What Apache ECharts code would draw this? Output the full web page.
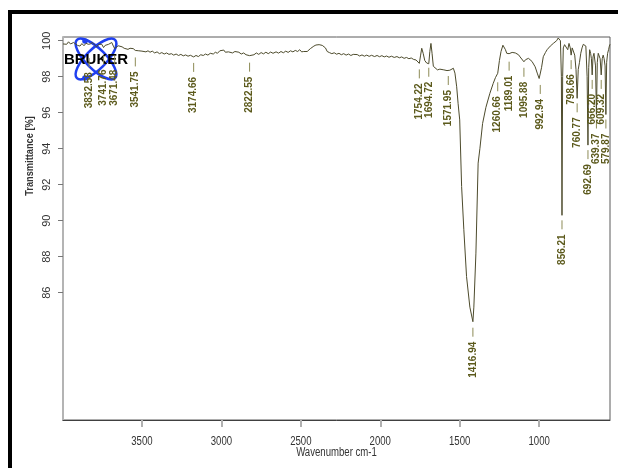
<!DOCTYPE html>
<html>
<head>
<meta charset="utf-8">
<title>FTIR spectrum</title>
<script src="https://cdn.jsdelivr.net/npm/echarts@6/dist/echarts.min.js"></script>
<style>
  html, body { margin: 0; padding: 0; background: #ffffff; }
  #chart { width: 618px; height: 468px; }
</style>
</head>
<body>
<div id="chart"></div>
<script>
// Spectrum trace: wavenumber (cm-1) and transmittance (%)
var wavenumber = [
  3997, 3985, 3974, 3962, 3950, 3942, 3930, 3918, 3905, 3890, 3878, 3865, 3852, 3838, 3832.58, 3825, 3812, 3800,
  3785, 3772, 3760, 3753, 3741.76, 3732, 3722, 3710, 3700, 3690, 3680, 3671.48, 3660, 3650, 3638, 3625, 3612, 3600,
  3588, 3575, 3565, 3555, 3541.75, 3530, 3520, 3512, 3500, 3488, 3475, 3462, 3449, 3435, 3420, 3405, 3390, 3375,
  3360, 3345, 3330, 3315, 3300, 3285, 3270, 3255, 3240, 3225, 3210, 3195, 3174.66, 3160, 3145, 3130, 3114, 3100,
  3085, 3070, 3051, 3038, 3025, 3010, 2998, 2985, 2975, 2967, 2955, 2946, 2930, 2915, 2904, 2890, 2875, 2860,
  2845, 2835, 2822.55, 2810, 2795, 2780, 2765, 2750, 2735, 2720, 2705, 2690, 2675, 2656, 2640, 2625, 2610, 2595,
  2580, 2565, 2550, 2535, 2520, 2507, 2495, 2482, 2470, 2460, 2450, 2440, 2430, 2418, 2405, 2396, 2385, 2375,
  2365, 2354, 2345, 2334, 2320, 2305, 2290, 2275, 2260, 2245, 2230, 2215, 2200, 2185, 2170, 2160, 2145, 2130,
  2115, 2100, 2085, 2070, 2055, 2036, 2020, 2005, 1990, 1975, 1960, 1945, 1930, 1912, 1895, 1880, 1865, 1850,
  1835, 1820, 1805, 1790, 1775, 1765, 1754.22, 1746, 1739, 1730, 1720, 1708, 1700, 1694.72, 1688, 1681, 1674, 1666,
  1655, 1640, 1625, 1613, 1600, 1590, 1580, 1571.95, 1562, 1550, 1540, 1530, 1519, 1510, 1500, 1488, 1474, 1457,
  1436, 1416.94, 1411, 1398, 1384, 1373, 1356, 1335, 1310, 1289, 1275, 1260.66, 1250, 1240, 1228, 1221, 1212, 1204,
  1195, 1189.01, 1184, 1170, 1160, 1150, 1141, 1130, 1120, 1108, 1095.88, 1085, 1075, 1067, 1055, 1045, 1037, 1025,
  1012, 1000, 992.94, 985, 974, 960, 950, 942, 930, 920, 911, 900, 890, 880, 873, 866, 860, 856.21, 852, 848,
  840, 830, 820, 812, 804, 798.66, 792, 785, 776, 768, 760.77, 754, 746, 738, 730, 722, 714, 706, 698, 692.69,
  688, 682, 676, 671, 666.20, 661, 655, 650, 645, 639.37, 634, 628, 622, 616, 609.32, 603, 597, 591, 585, 579.87,
  575, 569, 563, 558, 554
];
var transmittance = [
  99.82, 99.92, 99.80, 99.94, 99.82, 99.76, 99.90, 99.84, 99.74, 99.70, 99.84, 99.72, 99.86, 99.80, 99.70, 99.82, 99.90, 99.78,
  99.66, 99.80, 99.86, 99.80, 99.62, 99.74, 99.64, 99.80, 99.88, 99.90, 99.70, 99.56, 99.66, 99.72, 99.62, 99.66, 99.58, 99.62,
  99.52, 99.58, 99.50, 99.56, 99.46, 99.54, 99.44, 99.50, 99.42, 99.48, 99.38, 99.44, 99.36, 99.42, 99.32, 99.38, 99.28, 99.34,
  99.26, 99.32, 99.24, 99.28, 99.20, 99.26, 99.18, 99.24, 99.16, 99.21, 99.14, 99.19, 99.10, 99.18, 99.12, 99.22, 99.18, 99.26,
  99.20, 99.30, 99.26, 99.36, 99.30, 99.44, 99.38, 99.48, 99.36, 99.46, 99.38, 99.44, 99.32, 99.40, 99.30, 99.36, 99.26, 99.32,
  99.22, 99.27, 99.17, 99.26, 99.22, 99.32, 99.24, 99.34, 99.27, 99.36, 99.28, 99.37, 99.30, 99.38, 99.31, 99.40, 99.33, 99.42,
  99.35, 99.44, 99.38, 99.46, 99.40, 99.50, 99.38, 99.40, 99.30, 99.40, 99.46, 99.56, 99.58, 99.70, 99.76, 99.70, 99.78, 99.68,
  99.74, 99.78, 99.60, 99.40, 99.34, 99.28, 99.33, 99.25, 99.30, 99.22, 99.28, 99.20, 99.26, 99.18, 99.24, 99.17, 99.23, 99.15,
  99.21, 99.14, 99.20, 99.13, 99.19, 99.12, 99.18, 99.11, 99.17, 99.10, 99.15, 99.08, 99.14, 99.07, 99.12, 99.05, 99.10, 99.02,
  99.07, 99.00, 99.04, 98.96, 98.93, 98.85, 98.74, 99.20, 99.58, 99.30, 98.90, 98.76, 98.80, 98.72, 99.40, 99.85, 99.30, 98.58,
  98.48, 98.38, 98.42, 98.33, 98.38, 98.30, 98.34, 98.26, 98.36, 98.40, 98.47, 98.20, 97.44, 96.50, 95.60, 91.90, 89.50, 86.90,
  85.20, 84.39, 85.20, 88.20, 93.20, 94.00, 95.40, 96.30, 97.08, 97.63, 97.95, 98.19, 98.90, 99.40, 99.75, 99.85, 99.50, 99.30,
  99.35, 99.28, 99.39, 99.35, 99.38, 99.32, 99.30, 99.22, 99.10, 99.05, 98.83, 98.95, 99.05, 99.02, 98.95, 98.85, 98.74, 98.55,
  98.20, 97.90, 97.82, 98.50, 99.11, 99.35, 99.50, 99.58, 99.70, 99.78, 99.85, 99.92, 100.00, 100.15, 100.12, 100.00, 98.00, 90.30, 98.00, 99.60,
  99.78, 99.88, 99.50, 99.85, 99.60, 99.20, 99.60, 99.70, 99.20, 98.40, 96.80, 98.40, 98.80, 99.30, 99.60, 99.80, 99.85, 99.70, 98.00, 94.20,
  98.50, 99.50, 99.30, 99.00, 98.10, 99.10, 99.30, 99.20, 98.60, 95.90, 98.80, 99.30, 99.40, 99.00, 98.10, 99.00, 99.20, 99.00, 98.60, 95.90,
  98.80, 99.30, 99.50, 99.70, 99.80
];

// Labelled band positions
var peakWavenumber = [
  3832.58, 3741.76, 3671.48, 3541.75, 3174.66, 2822.55, 1754.22, 1694.72, 1571.95, 1416.94, 1260.66,
  1189.01, 1095.88, 992.94, 856.21, 798.66, 760.77, 692.69, 666.20, 639.37, 609.32, 579.87
];
var peakTransmittance = [
  99.70, 99.62, 99.56, 99.46, 99.10, 99.17, 98.74, 98.72, 98.26, 84.39, 98.19,
  99.28, 98.83, 97.82, 90.30, 99.20, 96.80, 94.20, 98.10, 95.90, 98.10, 95.90
];

// Axis ticks
var xTickValues = [3500, 3000, 2500, 2000, 1500, 1000];
var yTickValues = [86, 88, 90, 92, 94, 96, 98, 100];

// Layout: pixel gap between each band minimum and the top of its label tick
var peakLabelDrop = [12, 8, 7, 7, 6, 7, 6, 4, 4, 6, 9, 8, 6, 5, 5, 5, 5, 5, 5, 5, 5, 5];

var X_MIN = 554, X_MAX = 3997, Y_MIN = 78.93, Y_MAX = 100.206;
var LABEL_COLOR = '#5c5a1c';
var TICK_COLOR = '#8d8b56';
var TRACE_COLOR = '#4d4b2c';
var AXIS_TEXT = '#333333';
var LOGO_BLUE = '#1f3ff0';

var chart = echarts.init(document.getElementById('chart'), null, { renderer: 'canvas' });

var traceData = wavenumber.map(function (w, i) { return [w, transmittance[i]]; });
var peakData = peakWavenumber.map(function (w, i) { return [w, peakTransmittance[i]]; });
var xLabelData = xTickValues.map(function (v) { return [v, Y_MIN]; });

chart.setOption({
  animation: false,
  backgroundColor: '#ffffff',
  grid: {
    left: 63, top: 37, right: 8, bottom: 48,
    show: true, borderColor: '#5a5a5a', borderWidth: 1, backgroundColor: 'transparent'
  },
  xAxis: {
    type: 'value',
    inverse: true,
    min: X_MIN, max: X_MAX,
    axisLine: { show: true, lineStyle: { color: '#404040', width: 1 } },
    axisTick: { show: true, customValues: xTickValues, length: 7, lineStyle: { color: '#b0b0b0', width: 2 } },
    axisLabel: { show: false },
    splitLine: { show: false }
  },
  yAxis: {
    type: 'value',
    min: Y_MIN, max: Y_MAX,
    axisLine: { show: true, lineStyle: { color: '#b4b4b4', width: 2 } },
    axisTick: { show: true, customValues: yTickValues, length: 5, lineStyle: { color: '#777777', width: 1 } },
    axisLabel: { show: true, customValues: yTickValues, rotate: 90, margin: 11,
      fontFamily: 'Arial, "Liberation Sans", sans-serif', fontSize: 11, color: AXIS_TEXT },
    splitLine: { show: false }
  },
  series: [
    {
      name: 'Transmittance',
      type: 'line',
      data: traceData,
      showSymbol: false,
      symbol: 'none',
      smooth: false,
      lineStyle: { color: TRACE_COLOR, width: 1 },
      z: 3
    },
    {
      // band labels: short tick under each minimum plus its wavenumber
      name: 'Bands',
      type: 'custom',
      data: peakData,
      encode: { x: 0, y: 1 },
      clip: false,
      z: 4,
      renderItem: function (params, api) {
        var p = api.coord([api.value(0), api.value(1)]);
        var i = params.dataIndex;
        var top = p[1] + peakLabelDrop[i];
        return {
          type: 'group',
          children: [
            { type: 'line', shape: { x1: p[0], y1: top, x2: p[0], y2: top + 9 },
              style: { stroke: TICK_COLOR, lineWidth: 1 } },
            { type: 'text', x: p[0], y: top + 14, rotation: Math.PI / 2,
              style: { text: peakWavenumber[i].toFixed(2), fill: LABEL_COLOR,
                font: 'bold 10px Arial, "Liberation Sans", sans-serif', align: 'right', verticalAlign: 'middle' } }
          ]
        };
      }
    },
    {
      // condensed wavenumber tick labels
      name: 'xLabels',
      type: 'custom',
      data: xLabelData,
      encode: { x: 0, y: 1 },
      clip: false,
      silent: true,
      renderItem: function (params, api) {
        var p = api.coord([api.value(0), api.value(1)]);
        return {
          type: 'text', x: p[0], y: p[1] + 22, scaleX: 0.8,
          style: { text: String(api.value(0)), fill: AXIS_TEXT,
            font: '12px Arial, "Liberation Sans", sans-serif', align: 'center', verticalAlign: 'middle' }
        };
      }
    }
  ],
  graphic: [
    // page frame
    { type: 'rect', shape: { x: 8, y: 10, width: 4, height: 458 }, style: { fill: '#000000' }, silent: true },
    { type: 'rect', shape: { x: 8, y: 10, width: 610, height: 4 }, style: { fill: '#000000' }, silent: true },
    // axis titles
    { type: 'text', x: 30, y: 156, rotation: Math.PI / 2, scaleX: 0.84,
      style: { text: 'Transmittance [%]', fill: AXIS_TEXT, font: 'bold 11px Arial, "Liberation Sans", sans-serif',
        align: 'center', verticalAlign: 'middle' } },
    { type: 'text', x: 336.5, y: 453, scaleX: 0.8,
      style: { text: 'Wavenumber cm-1', fill: AXIS_TEXT, font: '12px Arial, "Liberation Sans", sans-serif',
        align: 'center', verticalAlign: 'middle' } },
    // instrument logo
    { type: 'group', x: 96, y: 59, z: 10, children: [
      { type: 'ellipse', rotation: Math.PI / 4, shape: { cx: 0, cy: 0, rx: 27, ry: 10 },
        style: { fill: 'none', stroke: LOGO_BLUE, lineWidth: 2.5 } },
      { type: 'ellipse', rotation: -Math.PI / 4, shape: { cx: 0, cy: 0, rx: 27, ry: 10 },
        style: { fill: 'none', stroke: LOGO_BLUE, lineWidth: 2.5 } },
      { type: 'circle', shape: { cx: -11, cy: -18, r: 2.8 }, style: { fill: LOGO_BLUE } },
      { type: 'circle', shape: { cx: -11, cy: 19, r: 2.8 }, style: { fill: LOGO_BLUE } },
      { type: 'text', x: 0, y: 1, style: { text: 'BRUKER', fill: '#000000',
        font: '900 15px Arial, "Liberation Sans", sans-serif', align: 'center', verticalAlign: 'middle' } }
    ] }
  ]
});
</script>
</body>
</html>
